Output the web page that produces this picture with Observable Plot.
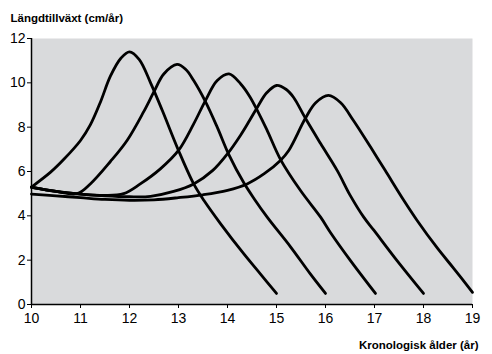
<!DOCTYPE html>
<html>
<head>
<meta charset="utf-8">
<script src="https://cdn.jsdelivr.net/npm/d3@7"></script>
<script src="https://cdn.jsdelivr.net/npm/@observablehq/plot@0.6"></script>
<style>
  html, body { margin: 0; padding: 0; background: #fff; }
  #chart svg { display: block; }
</style>
</head>
<body>
<div id="chart"></div>
<script>
// Labels
const yTitle = "Längdtillväxt (cm/år)";
const xTitle = "Kronologisk ålder (år)";
const xTicks = [10, 11, 12, 13, 14, 15, 16, 17, 18, 19];
const yTicks = [0, 2, 4, 6, 8, 10, 12];

// Growth velocity curves: [age, cm/year], peak at 12, 13, 14, 15, 16
const curve1 = [[10,5.3],[10.39,5.97],[10.66,6.55],[11,7.4],[11.2,8.1],[11.41,9.15],[11.61,10.3],[11.82,11.1],[12,11.4],[12.2,11.05],[12.43,10.0],[12.67,8.75],[13,6.95],[13.31,5.44],[13.52,4.69],[13.86,3.64],[14.33,2.29],[14.67,1.38],[15,0.5]];
const curve2 = [[10,5.28],[10.5,5.1],[10.93,5.0],[11.2,5.44],[11.61,6.45],[11.95,7.4],[12.29,8.7],[12.5,9.6],[12.7,10.4],[12.97,10.83],[13.15,10.6],[13.31,10.1],[13.55,9.15],[13.79,8.0],[14.03,6.75],[14.33,5.5],[14.55,4.75],[14.81,3.94],[15.29,2.59],[15.69,1.38],[16,0.5]];
const curve3 = [[10,5.3],[10.5,5.1],[11,4.98],[11.5,4.92],[11.88,5.0],[12.22,5.44],[12.63,6.12],[13,6.95],[13.31,8.15],[13.55,9.2],[13.79,10.1],[14.03,10.4],[14.27,9.95],[14.45,9.4],[14.61,8.75],[14.8,7.9],[15.08,6.55],[15.49,5.14],[15.9,3.94],[16.1,3.25],[16.51,1.98],[17.02,0.5]];
const curve4 = [[10,5.28],[10.5,5.1],[11,4.98],[11.5,4.9],[12,4.86],[12.43,4.88],[12.9,5.1],[13.31,5.44],[13.7,6.05],[14.0,6.8],[14.27,7.65],[14.45,8.3],[14.61,8.9],[14.8,9.55],[15,9.88],[15.2,9.7],[15.35,9.34],[15.59,8.4],[15.9,7.26],[16.24,6.04],[16.51,4.9],[16.78,3.94],[16.99,3.34],[17.46,1.98],[18,0.5]];
const curve5 = [[10,4.98],[10.5,4.9],[11,4.82],[11.5,4.74],[12,4.7],[12.5,4.72],[13,4.82],[13.5,4.95],[14,5.15],[14.4,5.44],[14.75,5.9],[15.08,6.5],[15.25,6.95],[15.59,8.4],[15.8,9.1],[16.06,9.43],[16.31,9.1],[16.57,8.3],[16.92,7.1],[17.22,6.04],[17.6,4.69],[17.87,3.79],[18.28,2.55],[18.62,1.62],[19,0.55]];

const curves = [curve1, curve2, curve3, curve4, curve5];
const rows = curves.flatMap((c, i) => c.map(([age, v]) => ({series: i, age, v})));

const font = "'Liberation Sans', Arial, Helvetica, sans-serif";

const chart = Plot.plot({
  width: 492,
  height: 354,
  marginLeft: 31,
  marginRight: 20,
  marginTop: 38,
  marginBottom: 50,
  style: {fontFamily: font, fontSize: "14px", color: "#000", background: "#fff"},
  x: {domain: [10, 19], ticks: xTicks, tickSize: 4, tickPadding: 5, label: null},
  y: {domain: [0, 12], ticks: yTicks, tickSize: 4, tickPadding: 2, label: null},
  marks: [
    Plot.frame({fill: "#d9dadc", stroke: "none"}),
    Plot.line(rows, {x: "age", y: "v", z: "series", stroke: "#000", strokeWidth: 2.8, curve: "catmull-rom"}),
    Plot.ruleX([10], {stroke: "#000", strokeWidth: 1.5}),
    Plot.ruleY([0], {stroke: "#000", strokeWidth: 1.5}),
    Plot.axisX({ticks: xTicks, tickSize: 4, tickPadding: 5, label: null, fontSize: 14}),
    Plot.axisY({ticks: yTicks, tickSize: 4, tickPadding: 2, label: null, fontSize: 14}),
    Plot.text([yTitle], {frameAnchor: "top-left", textAnchor: "start", lineAnchor: "bottom", dx: -21, dy: -17, fontWeight: "bold", fontSize: 11.5, fill: "#000"}),
    Plot.text([xTitle], {frameAnchor: "bottom-right", textAnchor: "end", lineAnchor: "bottom", dx: 6, dy: 44, fontWeight: "bold", fontSize: 11.5, fill: "#000"})
  ]
});
document.getElementById("chart").appendChild(chart);
</script>
</body>
</html>
